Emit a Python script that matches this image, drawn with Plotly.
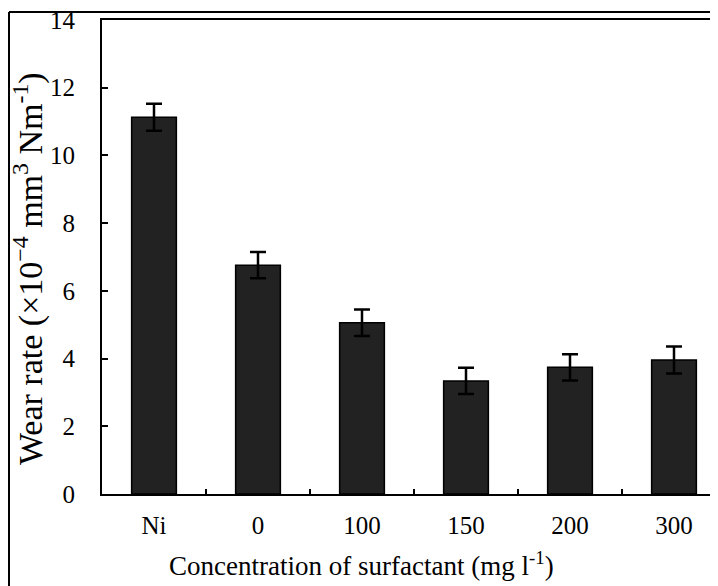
import plotly.graph_objects as go

categories = ["Ni", "0", "100", "150", "200", "300"]
wear_rate = [11.13, 6.76, 5.06, 3.34, 3.74, 3.96]
wear_err = [0.40, 0.39, 0.39, 0.39, 0.39, 0.40]
y_ticks = [0, 2, 4, 6, 8, 10, 12, 14]

# page body has an 8px margin, so the figure is drawn offset by (8, 8)
OFF = 8
W, H = 718 - OFF, 586 - OFF
ml, mt = 102 - OFF, 20 - OFF
mr = 0
mb = H - (494 - OFF)
pw, ph = W - ml - mr, H - mt - mb

def px_x(p):
    return (p - OFF - ml) / pw

def px_y(p):
    return (H - mb - (p - OFF)) / ph

FONT = "Liberation Serif, Times New Roman, serif"

fig = go.Figure()
fig.add_trace(go.Bar(
    x=categories, y=wear_rate, width=0.43,
    marker=dict(color="#222222", line=dict(color="#000000", width=1.5)),
    error_y=dict(type="data", array=wear_err, visible=True,
                 color="#000000", thickness=2.5, width=8),
))

fig.update_layout(
    template="none",
    width=W, height=H,
    margin=dict(l=ml, r=mr, t=mt, b=mb, pad=0),
    paper_bgcolor="white", plot_bgcolor="white",
    showlegend=False,
    font=dict(family=FONT, color="#000000"),
    xaxis=dict(
        type="category", range=[-0.5, -0.5 + pw / 104.0], automargin=False,
        showline=True, linecolor="#000000", linewidth=2, mirror=True,
        ticks="inside", ticklen=5, tickwidth=1.5, tickcolor="#000000",
        tickson="boundaries", showgrid=False, zeroline=False,
        tickfont=dict(family=FONT, size=25), ticklabelstandoff=8,
        ticklabeloverflow="allow",
    ),
    yaxis=dict(
        range=[0, 14], tickvals=y_ticks, automargin=False,
        showline=True, linecolor="#000000", linewidth=2,
        ticks="inside", ticklen=6, tickwidth=1.5, tickcolor="#000000",
        showgrid=False, zeroline=False,
        tickfont=dict(family=FONT, size=25), ticklabelstandoff=20,
        ticklabeloverflow="allow",
    ),
    annotations=[
        dict(text="Concentration of surfactant (mg l<sup>-1</sup>)",
             xref="paper", yref="paper", x=px_x(361), y=px_y(564),
             xanchor="center", yanchor="middle", showarrow=False,
             font=dict(family=FONT, size=27)),
        dict(text="Wear rate (\u00d710<sup>\u22124</sup> mm<sup>3</sup> Nm<sup>-1</sup>)",
             xref="paper", yref="paper", x=px_x(28), y=px_y(269),
             xanchor="center", yanchor="middle", showarrow=False,
             textangle=-90, font=dict(family=FONT, size=34)),
    ],
    shapes=[
        dict(type="line", xref="paper", yref="paper",
             x0=px_x(9), x1=px_x(9), y0=px_y(12), y1=px_y(600),
             line=dict(color="#000000", width=2)),
        dict(type="line", xref="paper", yref="paper",
             x0=px_x(9), x1=px_x(730), y0=px_y(12), y1=px_y(12),
             line=dict(color="#000000", width=2)),
    ],
)

fig.write_html("out.html")
